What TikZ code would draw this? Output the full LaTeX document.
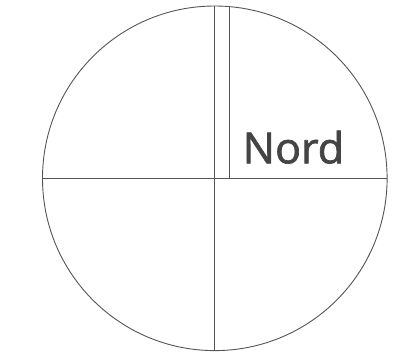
\documentclass[tikz,border=0pt]{standalone}
\usepackage{fontspec}
\newfontfamily\nordfont[FakeBold=1.6]{Open Sans}
\definecolor{linegray}{HTML}{555555}
\definecolor{textgray}{HTML}{444444}
\begin{document}
\begin{tikzpicture}[x=1pt, y=-1pt, line width=0.9pt]
    \useasboundingbox (0,0) rectangle (399,360);

    % Define Coordinates
    \coordinate (C) at (214.8,178.3);
    \coordinate (W) at (42.5,178.3);
    \coordinate (E) at (387.1,178.3);
    \coordinate (N) at (214.8,6);
    \coordinate (S) at (214.8,350.6);
    \coordinate (N2) at (229.5,6.6);
    \coordinate (M2) at (229.5,178.3);

    % Draw Circle and Cross
    \draw[linegray] (C) circle (172.3);
    \draw[linegray] (W) -- (E);
    \draw[linegray] (N) -- (S);
    \draw[linegray] (N2) -- (M2);

    % Label
    \node[anchor=base, inner sep=0pt, text=textgray, font=\nordfont\fontsize{43}{43}\selectfont] (nord) at (293.4,163.3) {Nord};
\end{tikzpicture}
\end{document}
